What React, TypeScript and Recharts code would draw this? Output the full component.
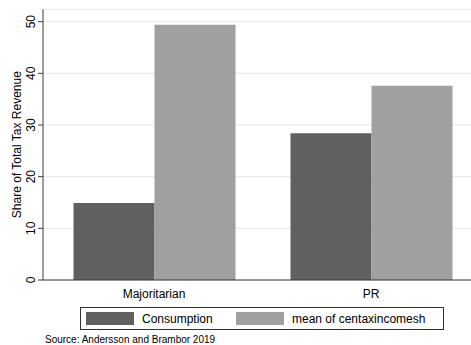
import {
  Bar,
  BarChart,
  CartesianGrid,
  Label,
  XAxis,
  YAxis,
} from "recharts";

const categories = ["Majoritarian", "PR"];
const consumption = [14.9, 28.4];
const centaxincomesh = [49.4, 37.6];
const seriesNames = ["Consumption", "mean of centaxincomesh"];
const seriesColors = ["#606060", "#a0a0a0"];
const yTicks = [0, 10, 20, 30, 40, 50];
const yMax = 52.4;
const sourceNote = "Source: Andersson and Brambor 2019";

const data = categories.map((name, i) => ({
  name,
  consumption: consumption[i],
  centaxincomesh: centaxincomesh[i],
}));

const FONT = '"Liberation Sans", Arial, Helvetica, sans-serif';
const AXIS = "#3a3a3a";

function YTick(props: any) {
  const { y, payload } = props;
  return (
    <text
      transform={`translate(35, ${y}) rotate(-90)`}
      textAnchor="middle"
      fontSize={12}
      fill="#000"
      fontFamily={FONT}
    >
      {payload.value}
    </text>
  );
}

function YLabel(props: any) {
  const vb = props.viewBox;
  const cy = vb.y + vb.height / 2;
  return (
    <text
      transform={`translate(21, ${cy}) rotate(-90)`}
      textAnchor="middle"
      fontSize={12}
      fill="#000"
      fontFamily={FONT}
    >
      Share of Total Tax Revenue
    </text>
  );
}

export default function App() {
  return (
    <div
      style={{
        position: "absolute",
        left: 0,
        top: 0,
        width: 471,
        height: 345,
        overflow: "hidden",
        background: "#fff",
        fontFamily: FONT,
      }}
    >
      <BarChart
        width={482}
        height={345}
        data={data}
        margin={{ top: 9.3, right: 0, bottom: 40, left: 0 }}
        barGap={0}
        barSize={81}
      >
        <CartesianGrid
          vertical={false}
          stroke="#e6e6e6"
          strokeWidth={1}
        />
        <XAxis
          dataKey="name"
          padding={{ left: 2.5, right: 2.5 }}
          height={25}
          tickLine={false}
          tickSize={7}
          tickMargin={2}
          axisLine={{ stroke: AXIS }}
          tick={{ fill: "#000", fontSize: 12, fontFamily: FONT }}
        />
        <XAxis
          xAxisId="top"
          orientation="top"
          dataKey="name"
          height={0}
          tick={false}
          tickLine={false}
          axisLine={{ stroke: AXIS }}
        />
        <YAxis
          width={43}
          domain={[0, yMax]}
          ticks={yTicks}
          interval={0}
          tickSize={5}
          tickLine={{ stroke: AXIS }}
          axisLine={{ stroke: AXIS }}
          tick={<YTick />}
        >
          <Label content={<YLabel />} />
        </YAxis>
        <Bar
          dataKey="consumption"
          name={seriesNames[0]}
          fill={seriesColors[0]}
          isAnimationActive={false}
        />
        <Bar
          dataKey="centaxincomesh"
          name={seriesNames[1]}
          fill={seriesColors[1]}
          isAnimationActive={false}
        />
      </BarChart>

      {/* legend box */}
      <div
        style={{
          position: "absolute",
          left: 80,
          top: 307,
          width: 362,
          height: 21,
          border: "1px solid #333",
          fontSize: 12,
          color: "#000",
        }}
      >
        {seriesNames.map((name, i) => (
          <div
            key={name}
            style={{
              position: "absolute",
              left: i === 0 ? 5 : 155,
              top: 3.5,
              display: "flex",
              alignItems: "center",
              whiteSpace: "nowrap",
            }}
          >
            <span
              style={{
                display: "inline-block",
                width: 48,
                height: 13,
                background: seriesColors[i],
                marginRight: 8,
              }}
            />
            <span>{name}</span>
          </div>
        ))}
      </div>

      <div
        style={{
          position: "absolute",
          left: 45,
          top: 334,
          fontSize: 10,
          color: "#000",
          whiteSpace: "nowrap",
        }}
      >
        {sourceNote}
      </div>
    </div>
  );
}
